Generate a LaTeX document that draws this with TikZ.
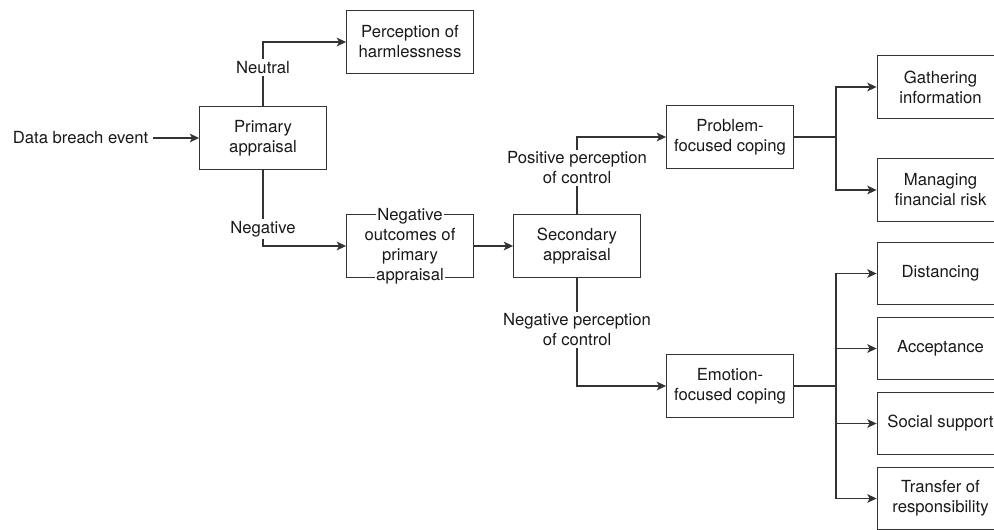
\documentclass[tikz,border=0pt]{standalone}
\usepackage{fontspec}
\setmainfont{TeX Gyre Heros}
\usetikzlibrary{arrows.meta}
\newcommand{\fundo}[1]{{\setlength{\fboxsep}{1pt}\colorbox{white}{#1}}}
\tikzset{
  caixa/.style={rectangle, draw=black!80, line width=0.9pt, minimum width=95pt, minimum height=47pt, inner sep=2pt, align=center, text=black!90},
  rotulo/.style={fill=white, inner sep=1.5pt, align=center, text=black!90},
  seta/.style={draw=black!80, line width=0.9pt, -{Stealth[length=7pt, width=6.5pt, inset=1.8pt]}},
  linha/.style={draw=black!80, line width=0.9pt},
}

\begin{document}
\begin{tikzpicture}[x=0.75pt, y=-0.75pt, font=\fontsize{12.5}{15}\selectfont]
  \useasboundingbox (0,0) rectangle (994,529);

  % ---------------- avaliação primária ----------------
  \node[anchor=east, text=black!90] (evento) at (153,138) {Data breach event};
  \node[caixa] (prim) at (263,138) {Primary\\appraisal};
  \node[caixa] (inofens) at (410,42) {Perception of\\harmlessness};
  \node[caixa] (negout) at (410,246) {};
  % texto maior que a caixa, com fundo branco sobre a borda
  \node[align=center, text=black!90, inner sep=0pt] (negtexto) at (negout)
    {\fundo{Negative}\\outcomes of\\primary\\\fundo{appraisal}};
  \draw[seta] (evento) -- (prim);
  \draw[seta] (prim.north) |- node[rotulo, pos=0.3] {Neutral} (inofens.west);
  \draw[seta] (prim.south) |- node[rotulo, pos=0.39] {Negative} (negout.west);

  % ---------------- avaliação secundária ----------------
  \node[caixa] (sec) at (577,246) {Secondary\\appraisal};
  \node[caixa] (prob) at (730,137) {Problem-\\focused coping};
  \node[caixa] (emoc) at (730,386) {Emotion-\\focused coping};
  \draw[seta] (negout) -- (sec);
  \draw[seta] (sec.north) |- node[rotulo, pos=0.3] {Positive perception\\of control} (prob.west);
  \draw[seta] (sec.south) |- node[rotulo, pos=0.24] {Negative perception\\of control} (emoc.west);

  % ---------------- estratégias de enfrentamento ----------------
  \node[caixa] (colet) at (940.5,87) {Gathering\\information};
  \node[caixa] (risco) at (940.5,190) {Managing\\financial risk};
  \foreach \n/\t [count=\i from 0] in {dist/Distancing, acei/Acceptance, apoio/Social support, transf/{Transfer of\\responsibility}} {
    \node[caixa] (\n) at (940.5,273.5+75*\i) {\t};
  }
  \draw[linha] (prob.east) -- ++(42,0) coordinate (pbif);
  \draw[linha] (emoc.east) -- ++(42,0) coordinate (ebif);
  \foreach \n in {colet, risco} { \draw[seta] (pbif) |- (\n.west); }
  \foreach \n in {dist, acei, apoio, transf} { \draw[seta] (ebif) |- (\n.west); }
\end{tikzpicture}
\end{document}
